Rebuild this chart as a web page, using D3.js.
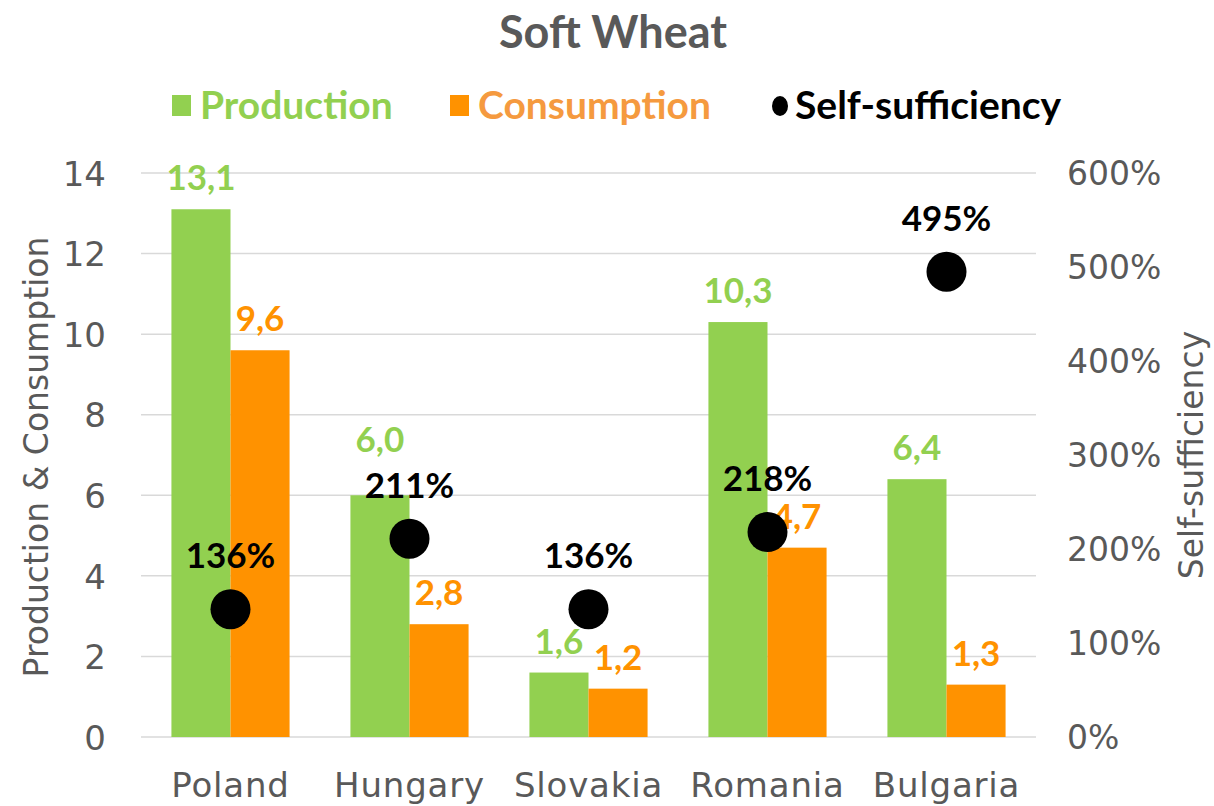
<!DOCTYPE html>
<html>
<head>
<meta charset="utf-8">
<script src="https://cdn.jsdelivr.net/npm/d3@7"></script>
<style>
  html, body { margin: 0; padding: 0; background: #fff; }
  svg { display: block; }
</style>
</head>
<body>
<svg id="chart" width="1214" height="806"></svg>
<script>
const categories = ["Poland", "Hungary", "Slovakia", "Romania", "Bulgaria"];
const production = [13.1, 6.0, 1.6, 10.3, 6.4];
const consumption = [9.6, 2.8, 1.2, 4.7, 1.3];
const selfSufficiency = [136, 211, 136, 218, 495];
const leftTicks = [0, 2, 4, 6, 8, 10, 12, 14];
const rightTicks = [0, 100, 200, 300, 400, 500, 600];
const seriesNames = ["Production", "Consumption", "Self-sufficiency"];

const GREEN = "#92d050", ORANGE = "#ff9200", ORANGE_TXT = "#f59a3f", GRAY = "#595959", GRID = "#d9d9d9";
const REG = "'DejaVu Sans', sans-serif";
const BOLD = "Lato, 'DejaVu Sans', sans-serif";

const svg = d3.select("#chart");
const plot = { left: 141, right: 1036, top: 173, bottom: 737 };

const x = d3.scaleBand().domain(categories).range([plot.left, plot.right]).paddingInner(0.34).paddingOuter(0.17);
const xs = d3.scaleBand().domain(["p", "c"]).range([0, x.bandwidth()]);
const y = d3.scaleLinear().domain([0, 14]).range([plot.bottom, plot.top]);
const yR = d3.scaleLinear().domain([0, 600]).range([plot.bottom, plot.top]);

// label nudge (layout only): production label for Hungary lifted to clear the dot label
const prodLabelGap = c => (c === "Hungary" ? 43 : 19);

// gridlines
svg.append("g").selectAll("line").data(leftTicks).join("line")
  .attr("x1", plot.left).attr("x2", plot.right)
  .attr("y1", d => y(d)).attr("y2", d => y(d))
  .attr("stroke", GRID).attr("stroke-width", 1.5);

// left axis
const yAxis = svg.append("g").attr("transform", `translate(${plot.left - 35},0)`)
  .call(d3.axisLeft(y).tickValues(leftTicks).tickSize(0).tickPadding(0).tickFormat(d3.format("d")));
yAxis.select(".domain").remove();
yAxis.selectAll("text").attr("font-family", REG).attr("font-size", 34).attr("fill", GRAY).attr("dy", "0.36em");

// right axis
const yAxisR = svg.append("g").attr("transform", `translate(${plot.right + 31},0)`)
  .call(d3.axisRight(yR).tickValues(rightTicks).tickSize(0).tickPadding(0).tickFormat(d => d + "%"));
yAxisR.select(".domain").remove();
yAxisR.selectAll("text").attr("font-family", REG).attr("font-size", 33).attr("fill", GRAY).attr("dy", "0.36em");

// bottom axis
const xAxis = svg.append("g").attr("transform", `translate(0,${plot.bottom})`)
  .call(d3.axisBottom(x).tickSize(0).tickPadding(0));
xAxis.select(".domain").remove();
xAxis.selectAll("text").attr("font-family", REG).attr("font-size", 34).attr("fill", GRAY)
  .attr("dy", null).attr("y", 60).attr("letter-spacing", 0.8);

// bars
const groups = svg.append("g").selectAll("g").data(categories).join("g")
  .attr("transform", d => `translate(${x(d)},0)`);
groups.append("rect").attr("x", xs("p")).attr("width", xs.bandwidth())
  .attr("y", (d, i) => y(production[i])).attr("height", (d, i) => y(0) - y(production[i])).attr("fill", GREEN);
groups.append("rect").attr("x", xs("c")).attr("width", xs.bandwidth())
  .attr("y", (d, i) => y(consumption[i])).attr("height", (d, i) => y(0) - y(consumption[i])).attr("fill", ORANGE);

const fmt = v => v.toFixed(1).replace(".", ",");
groups.append("text").attr("x", xs("p") + xs.bandwidth() / 2).attr("y", (d, i) => y(production[i]) - prodLabelGap(d))
  .attr("text-anchor", "middle").attr("font-family", BOLD).attr("font-weight", "bold").attr("font-size", 35)
  .attr("fill", GREEN).text((d, i) => fmt(production[i]));
groups.append("text").attr("x", xs("c") + xs.bandwidth() / 2).attr("y", (d, i) => y(consumption[i]) - 19)
  .attr("text-anchor", "middle").attr("font-family", BOLD).attr("font-weight", "bold").attr("font-size", 35)
  .attr("fill", ORANGE).text((d, i) => fmt(consumption[i]));

// self-sufficiency dots
groups.append("circle").attr("cx", x.bandwidth() / 2).attr("cy", (d, i) => yR(selfSufficiency[i]))
  .attr("r", 20).attr("fill", "#000");
groups.append("text").attr("x", x.bandwidth() / 2).attr("y", (d, i) => yR(selfSufficiency[i]) - 41)
  .attr("text-anchor", "middle").attr("font-family", BOLD).attr("font-weight", "bold").attr("font-size", 35)
  .attr("fill", "#000").text((d, i) => selfSufficiency[i] + "%");

// axis titles
svg.append("text").attr("transform", `translate(48,${(plot.top + plot.bottom) / 2 + 2}) rotate(-90)`)
  .attr("text-anchor", "middle").attr("font-family", REG).attr("font-size", 33).attr("fill", GRAY)
  .text("Production & Consumption");
svg.append("text").attr("transform", `translate(1203,${(plot.top + plot.bottom) / 2}) rotate(-90)`)
  .attr("text-anchor", "middle").attr("font-family", REG).attr("font-size", 33).attr("fill", GRAY)
  .text("Self-sufficiency");

// title
svg.append("text").attr("x", 613).attr("y", 48).attr("text-anchor", "middle")
  .attr("font-family", BOLD).attr("font-weight", "bold").attr("font-size", 45).attr("fill", GRAY)
  .text("Soft Wheat");

// legend
const legend = svg.append("g");
const lx = [172, 450, 771];
legend.append("rect").attr("x", lx[0]).attr("y", 95).attr("width", 19).attr("height", 21).attr("fill", GREEN);
legend.append("text").attr("x", lx[0] + 28).attr("y", 119).attr("font-family", BOLD).attr("font-weight", "bold")
  .attr("font-size", 39).attr("fill", GREEN).text(seriesNames[0]);
legend.append("rect").attr("x", lx[1]).attr("y", 95).attr("width", 19).attr("height", 21).attr("fill", ORANGE);
legend.append("text").attr("x", lx[1] + 28).attr("y", 119).attr("font-family", BOLD).attr("font-weight", "bold")
  .attr("font-size", 39).attr("fill", ORANGE_TXT).text(seriesNames[1]);
legend.append("ellipse").attr("cx", lx[2] + 9).attr("cy", 106).attr("rx", 8).attr("ry", 10).attr("fill", "#000");
legend.append("text").attr("x", lx[2] + 24).attr("y", 119).attr("font-family", BOLD).attr("font-weight", "bold")
  .attr("font-size", 39).attr("fill", "#000").text(seriesNames[2]);
</script>
</body>
</html>
